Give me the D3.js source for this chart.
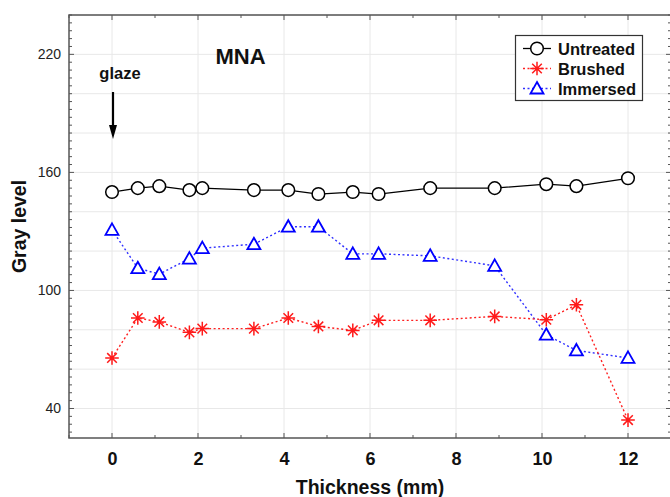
<!DOCTYPE html>
<html><head><meta charset="utf-8">
<script src="https://cdn.jsdelivr.net/npm/d3@7"></script>
<style>body{margin:0;background:#fff}svg{display:block}text{font-family:Arial,"Liberation Sans",sans-serif}</style>
</head><body>
<svg id="c" width="670" height="497"></svg>
<script>
const thickness = [0, 0.6, 1.1, 1.8, 2.1, 3.3, 4.1, 4.8, 5.6, 6.2, 7.4, 8.9, 10.1, 10.8, 12];
const untreated = [150, 152, 153, 151, 152, 151, 151, 149, 150, 149, 152, 152, 154, 153, 157];
const brushed = [65.7, 86, 84, 78.7, 80.6, 80.6, 86, 81.7, 79.7, 84.8, 84.8, 86.8, 85.1, 92.7, 34.1];
const immersed = [130.8, 111.3, 108.3, 116.2, 121.5, 123.5, 132.4, 132.4, 118.6, 118.6, 117.6, 112.5, 77.5, 69.5, 65.7];
const xTicks = [0, 2, 4, 6, 8, 10, 12];
const yTicks = [40, 100, 160, 220];
const seriesNames = ["Untreated", "Brushed", "Immersed"];

const svg = d3.select("#c");
const L = 69, R = 671, T = 15, B = 438;
const x = d3.scaleLinear().domain([-1, 13]).range([L, R]);
const y = d3.scaleLinear().domain([25, 240]).range([B, T]);

// grid
const g = svg.append("g");
g.selectAll(".gx").data(d3.range(0, 13, 2)).join("line")
  .attr("x1", d => x(d)).attr("x2", d => x(d)).attr("y1", T).attr("y2", B)
  .attr("stroke", "#e8e8e8").attr("stroke-width", 1);
g.selectAll(".gy").data(d3.range(40, 241, 20)).join("line")
  .attr("y1", d => y(d)).attr("y2", d => y(d)).attr("x1", L).attr("x2", R)
  .attr("stroke", "#e8e8e8").attr("stroke-width", 1);

// frame
svg.append("rect").attr("x", L).attr("y", T).attr("width", R - L).attr("height", B - T)
  .attr("fill", "none").attr("stroke", "#555").attr("stroke-width", 1.5);

// axes (labels)
const axB = d3.axisBottom(x).tickValues(xTicks).tickSize(0).tickPadding(14).tickFormat(d3.format("d"));
const gxA = svg.append("g").attr("transform", `translate(0,${B})`).call(axB);
gxA.select(".domain").remove();
gxA.selectAll("text").attr("font-size", 18).attr("font-weight", "bold").attr("fill", "#111");

const axL = d3.axisLeft(y).tickValues(yTicks).tickSize(0).tickPadding(8);
const gyA = svg.append("g").attr("transform", `translate(${L},0)`).call(axL);
gyA.select(".domain").remove();
gyA.selectAll("text").attr("font-size", 14).attr("fill", "#222");

// inward ticks
const tk = svg.append("g").attr("stroke", "#555").attr("stroke-width", 1);
const xt = d3.range(-1, 14, 1);
tk.selectAll(".tb").data(xt).join("line").attr("x1", d => x(d)).attr("x2", d => x(d))
  .attr("y1", B).attr("y2", d => B - (d % 2 === 0 ? 5 : 3));
tk.selectAll(".tt").data(xt).join("line").attr("x1", d => x(d)).attr("x2", d => x(d))
  .attr("y1", T).attr("y2", d => T + (d % 2 === 0 ? 5 : 3));
const yt = d3.range(28, 241, 4);
tk.selectAll(".tl").data(yt).join("line").attr("y1", d => y(d)).attr("y2", d => y(d))
  .attr("x1", L).attr("x2", d => L + ((d - 40) % 60 === 0 ? 5 : 3));
tk.selectAll(".tr").data(yt).join("line").attr("y1", d => y(d)).attr("y2", d => y(d))
  .attr("x1", R).attr("x2", d => R - ((d - 40) % 60 === 0 ? 5 : 3));

// titles
svg.append("text").attr("x", 370).attr("y", 494).attr("text-anchor", "middle")
  .attr("font-size", 19.5).attr("font-weight", "bold").attr("fill", "#111").text("Thickness (mm)");
svg.append("text").attr("transform", `translate(26,226.5) rotate(-90)`).attr("text-anchor", "middle")
  .attr("font-size", 19.5).attr("font-weight", "bold").attr("fill", "#111").text("Gray level");
svg.append("text").attr("x", 240.5).attr("y", 63.5).attr("text-anchor", "middle")
  .attr("font-size", 22).attr("font-weight", "bold").attr("fill", "#111").text("MNA");
svg.append("text").attr("x", 120).attr("y", 79).attr("text-anchor", "middle")
  .attr("font-size", 16.5).attr("font-weight", "bold").attr("fill", "#111").text("glaze");
// arrow
svg.append("line").attr("x1", x(0) + 1).attr("x2", x(0) + 1).attr("y1", 92).attr("y2", 128)
  .attr("stroke", "#000").attr("stroke-width", 2.2);
svg.append("path").attr("d", `M${x(0) - 3},125 L${x(0) + 5},125 L${x(0) + 1},139 Z`).attr("fill", "#000");

// markers
function circleM(sel) {
  sel.append("circle").attr("r", 6.3).attr("fill", "#fff").attr("stroke", "#000").attr("stroke-width", 1.5);
}
function starM(sel) {
  const s = 6.8;
  const p = [];
  for (let i = 0; i < 4; i++) {
    const a = i * Math.PI / 4;
    p.push(`M${-s * Math.cos(a)},${-s * Math.sin(a)}L${s * Math.cos(a)},${s * Math.sin(a)}`);
  }
  sel.append("path").attr("d", p.join("")).attr("stroke", "#ff1a1a").attr("stroke-width", 1.5).attr("fill", "none");
}
function triM(sel) {
  sel.append("path").attr("d", "M0,-6.5L6.5,5L-6.5,5Z").attr("fill", "#fff").attr("stroke", "#0000ff").attr("stroke-width", 1.8);
}

const series = [
  {name: seriesNames[0], vals: untreated, color: "#000", dash: null, m: circleM},
  {name: seriesNames[1], vals: brushed, color: "#ff2020", dash: "2,2.5", m: starM},
  {name: seriesNames[2], vals: immersed, color: "#3030ff", dash: "2,2.5", m: triM}
];
const line = d3.line().x(d => x(d[0])).y(d => y(d[1]));
const plot = svg.append("g");
series.slice().reverse().forEach(s => {
  const pts = thickness.map((t, i) => [t, s.vals[i]]);
  plot.append("path").datum(pts).attr("d", line).attr("fill", "none").attr("stroke", s.color)
    .attr("stroke-width", s.dash ? 1.4 : 1.3).attr("stroke-dasharray", s.dash);
  pts.forEach(p => {
    const gm = plot.append("g").attr("transform", `translate(${x(p[0])},${y(p[1])})`);
    s.m(gm);
  });
});

// legend
const lg = svg.append("g");
lg.append("rect").attr("x", 515.5).attr("y", 35.5).attr("width", 127).attr("height", 65)
  .attr("fill", "#fff").attr("stroke", "#333").attr("stroke-width", 1.2);
series.forEach((s, i) => {
  const yy = 48.5 + i * 20;
  lg.append("line").attr("x1", 523).attr("x2", 551).attr("y1", yy).attr("y2", yy)
    .attr("stroke", s.color).attr("stroke-width", 1.3).attr("stroke-dasharray", s.dash);
  const gm = lg.append("g").attr("transform", `translate(537,${yy})`);
  s.m(gm);
  lg.append("text").attr("x", 558).attr("y", yy + 6).attr("font-size", 16.5).attr("font-weight", "bold")
    .attr("fill", "#111").text(s.name);
});
</script>
</body></html>
